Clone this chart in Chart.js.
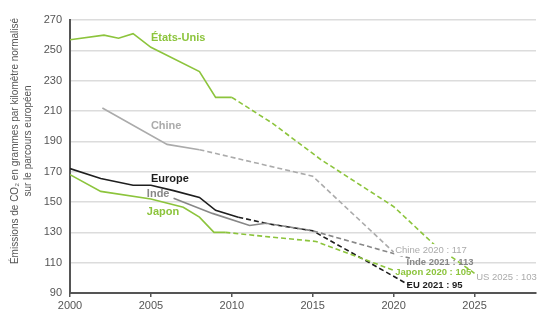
<!DOCTYPE html>
<html lang="fr">
<head>
<meta charset="utf-8">
<title>Émissions de CO₂ des voitures neuves</title>
<script src="https://cdn.jsdelivr.net/npm/chart.js@4/dist/chart.umd.min.js"></script>
<style>
  html, body { margin: 0; padding: 0; background: #fff; }
  #wrap { width: 550px; height: 323px; }
</style>
</head>
<body>
<div id="wrap"><canvas id="co2Chart"></canvas></div>
<script>
// measured values (solid) and targets (dashed), g CO2 / km, NEDC
const usYears        = [2000, 2002.1, 2003, 2003.9, 2005, 2008, 2009, 2010];
const usValues       = [257, 260, 258, 261, 252, 236, 219, 219];
const usTargetYears  = [2010, 2012.5, 2015.5, 2020, 2021.3, 2022.5, 2025];
const usTargetValues = [219, 202, 178, 147, 134, 122, 103];

const chinaYears        = [2002, 2006, 2008];
const chinaValues       = [212, 188, 184.5];
const chinaTargetYears  = [2008, 2015, 2020];
const chinaTargetValues = [184.5, 167, 117];

const euYears        = [2000, 2001.9, 2003.9, 2005, 2006.4, 2008, 2009, 2010.4];
const euValues       = [172, 165.5, 161, 161, 157.5, 153, 144.5, 140];
const euTargetYears  = [2010.4, 2012.3, 2015, 2021];
const euTargetValues = [140, 135.5, 131, 95];

const indiaYears        = [2006.4, 2008.8, 2011.1, 2012.1];
const indiaValues       = [152.5, 142.5, 134.5, 136];
const indiaTargetYears  = [2012.1, 2015, 2021];
const indiaTargetValues = [136, 131, 113];

const japanYears        = [2000, 2001.9, 2005, 2007, 2008, 2008.9, 2009.6];
const japanValues       = [168, 157, 152, 146.5, 140, 130, 130];
const japanTargetYears  = [2009.6, 2012.3, 2015.2, 2020];
const japanTargetValues = [130, 127, 124, 105];

const xTicks = [2000, 2005, 2010, 2015, 2020, 2025];

const GREEN = '#8cc43c';
const LIGHT = '#ababab';
const MID = '#878787';
const DARK = '#1e1e1e';
const AXIS = '#555';

function pts(xs, ys) {
    return xs.map((x, i) => ({ x: x, y: ys[i] }));
}

function line(data, color, dashed) {
    return {
        data: data,
        borderColor: color,
        borderWidth: 1.6,
        borderDash: dashed ? [5, 3] : [],
        pointRadius: 0,
        tension: 0,
        fill: false
    };
}

// series names and end-of-line target labels, anchored in data units
const seriesNames = [
    { text: 'États-Unis', x: 2005, y: 258.3, color: GREEN, bold: true, size: 11 },
    { text: 'Chine',      x: 2005, y: 200,   color: LIGHT, bold: true, size: 11 },
    { text: 'Europe',     x: 2005, y: 165,   color: DARK,  bold: true, size: 11 },
    { text: 'Inde',       x: 2004.75, y: 155, color: MID,  bold: true, size: 11 },
    { text: 'Japon',      x: 2004.75, y: 143.4, color: GREEN, bold: true, size: 11 }
];

const targetLabels = [
    { text: 'Chine 2020 : 117', x: 2020.1, y: 118.3, color: LIGHT, bold: false, size: 9.5, knockout: true },
    { text: 'Inde 2021 : 113',  x: 2020.8, y: 110.4, color: MID,   bold: true,  size: 9.5 },
    { text: 'Japon 2020 : 105', x: 2020.1, y: 103.8, color: GREEN, bold: true,  size: 9.5 },
    { text: 'EU 2021 : 95',     x: 2020.8, y: 95.3,  color: DARK,  bold: true,  size: 9.5 },
    { text: 'US 2025 : 103',    x: 2025.1, y: 100,   color: LIGHT, bold: false, size: 9.5 }
];

const labelPlugin = {
    id: 'lineLabels',
    afterDatasetsDraw(chart) {
        const ctx = chart.ctx;
        const xs = chart.scales.x, ys = chart.scales.y;
        ctx.save();
        ctx.textAlign = 'left';
        ctx.textBaseline = 'middle';
        seriesNames.concat(targetLabels).forEach(l => {
            ctx.font = (l.bold ? 'bold ' : '') + l.size + 'px "Liberation Sans", Arial, sans-serif';
            const px = xs.getPixelForValue(l.x);
            const py = ys.getPixelForValue(l.y);
            if (l.knockout) {
                const w = ctx.measureText(l.text).width;
                ctx.fillStyle = '#fff';
                ctx.fillRect(px - 1, py - 6, w + 2, 12);
            }
            ctx.fillStyle = l.color;
            ctx.fillText(l.text, px, py);
        });
        ctx.restore();
    }
};

// two-line rotated y title, centred a bit above the plot middle
const yTitlePlugin = {
    id: 'yTitle',
    afterDraw(chart) {
        const ctx = chart.ctx;
        ctx.save();
        ctx.fillStyle = AXIS;
        ctx.font = '10px "Liberation Sans", Arial, sans-serif';
        ctx.textAlign = 'center';
        ctx.textBaseline = 'middle';
        ctx.translate(15, 141);
        ctx.rotate(-Math.PI / 2);
        ctx.fillText('Émissions de CO₂ en grammes par kilomètre normalisé', 0, 0);
        ctx.fillText('sur le parcours européen', 0, 13);
        ctx.restore();
    }
};

new Chart(document.getElementById('co2Chart'), {
    type: 'line',
    data: {
        datasets: [
            line(pts(chinaYears, chinaValues), LIGHT, false),
            line(pts(chinaTargetYears, chinaTargetValues), LIGHT, true),
            line(pts(indiaYears, indiaValues), MID, false),
            line(pts(indiaTargetYears, indiaTargetValues), MID, true),
            line(pts(japanYears, japanValues), GREEN, false),
            line(pts(japanTargetYears, japanTargetValues), GREEN, true),
            line(pts(euYears, euValues), DARK, false),
            line(pts(euTargetYears, euTargetValues), DARK, true),
            line(pts(usYears, usValues), GREEN, false),
            line(pts(usTargetYears, usTargetValues), GREEN, true)
        ]
    },
    options: {
        responsive: true,
        maintainAspectRatio: false,
        animation: false,
        events: [],
        layout: { padding: { top: 20, right: 14, bottom: 0, left: 0 } },
        plugins: { legend: { display: false }, tooltip: { enabled: false } },
        scales: {
            x: {
                type: 'linear',
                min: 2000,
                max: 2028.8,
                afterBuildTicks: s => { s.ticks = xTicks.map(v => ({ value: v })); },
                afterFit: s => { s.height = 30; },
                grid: { drawOnChartArea: false, drawTicks: true, tickLength: 4, color: AXIS, lineWidth: 1.5 },
                border: { display: true, color: AXIS, width: 2 },
                ticks: {
                    color: AXIS,
                    padding: 2,
                    maxRotation: 0,
                    font: { family: '"Liberation Sans", Arial, sans-serif', size: 11 },
                    callback: v => String(v)
                }
            },
            y: {
                min: 90,
                max: 270,
                afterFit: s => { s.width = 70; },
                grid: { color: '#dcdcdc', lineWidth: 1.5, drawTicks: false },
                border: { display: true, color: AXIS, width: 2 },
                ticks: {
                    stepSize: 20,
                    color: AXIS,
                    padding: 8,
                    font: { family: '"Liberation Sans", Arial, sans-serif', size: 11 }
                }
            }
        }
    },
    plugins: [labelPlugin, yTitlePlugin]
});
</script>
</body>
</html>
